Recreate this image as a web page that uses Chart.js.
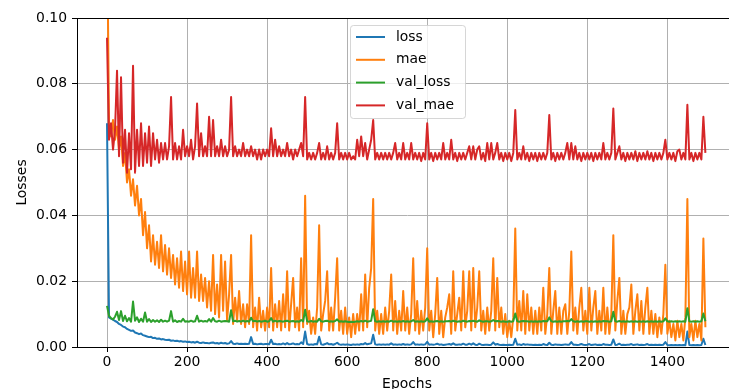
<!DOCTYPE html>
<html>
<head>
<meta charset="utf-8">
<script src="https://cdn.jsdelivr.net/npm/chart.js@4"></script>
<style>
html,body{margin:0;padding:0;overflow:hidden;background:#fff;width:729px;height:389px;}
#wrap{position:absolute;left:0;top:0;width:745px;height:400px;}
</style>
</head>
<body>
<div id="wrap"><canvas id="c" width="745" height="400"></canvas></div>
<script>
// Sampled epochs (every 5th epoch)
const epochs = Array.from({length: 300}, (_, i) => i * 5);
const xTicks = [0, 200, 400, 600, 800, 1000, 1200, 1400];
const yTicks = [0.00, 0.02, 0.04, 0.06, 0.08, 0.10];
const seriesNames = ['loss', 'mae', 'val_loss', 'val_mae'];

const loss = [
 0.068,0.0090,0.0086,0.0083,0.0079,0.0076,0.0070,0.0067,0.0062,0.0060,
 0.0055,0.0052,0.0049,0.0050,0.0044,0.0042,0.0039,0.0041,0.0036,0.0034,
 0.0032,0.0030,0.0031,0.0027,0.0028,0.0025,0.0026,0.0023,0.0024,0.0022,
 0.0021,0.0022,0.0019,0.0020,0.0018,0.0019,0.0017,0.0018,0.0016,0.0017,
 0.0015,0.0016,0.0014,0.0015,0.0013,0.0016,0.0013,0.0012,0.0014,0.0012,
 0.0012,0.0011,0.0013,0.0014,0.0011,0.0012,0.0010,0.0013,0.0011,0.0012,
 0.0010,0.0011,0.0018,0.0010,0.0009,0.0011,0.0009,0.0010,0.0009,0.0010,
 0.0009,0.0010,0.0030,0.0009,0.0010,0.0008,0.0009,0.0010,0.0008,0.0009,
 0.0009,0.0008,0.0022,0.0009,0.0010,0.0008,0.0009,0.0008,0.0011,0.0008,
 0.0012,0.0008,0.0009,0.0011,0.0008,0.0009,0.0008,0.0014,0.0009,0.0047,
 0.0009,0.0007,0.0008,0.0007,0.0009,0.0008,0.0031,0.0008,0.0007,0.0009,
 0.0012,0.0008,0.0009,0.0007,0.0009,0.0013,0.0008,0.0007,0.0008,0.0007,
 0.0008,0.0007,0.0006,0.0008,0.0007,0.0008,0.0007,0.0009,0.0008,0.0012,
 0.0008,0.0010,0.0011,0.0037,0.0008,0.0007,0.0008,0.0007,0.0008,0.0007,
 0.0008,0.0007,0.0011,0.0007,0.0008,0.0007,0.0008,0.0007,0.0009,0.0007,
 0.0008,0.0007,0.0008,0.0015,0.0007,0.0008,0.0007,0.0008,0.0007,0.0008,
 0.0016,0.0007,0.0008,0.0007,0.0008,0.0010,0.0007,0.0008,0.0006,0.0007,
 0.0008,0.0009,0.0007,0.0011,0.0007,0.0007,0.0008,0.0007,0.0010,0.0007,
 0.0007,0.0010,0.0007,0.0011,0.0007,0.0006,0.0010,0.0007,0.0006,0.0007,
 0.0007,0.0006,0.0007,0.0014,0.0007,0.0009,0.0007,0.0006,0.0007,0.0006,
 0.0006,0.0007,0.0006,0.0007,0.0025,0.0007,0.0008,0.0006,0.0009,0.0007,
 0.0008,0.0007,0.0007,0.0006,0.0007,0.0006,0.0007,0.0006,0.0009,0.0007,
 0.0006,0.0013,0.0007,0.0006,0.0008,0.0007,0.0007,0.0006,0.0007,0.0008,
 0.0007,0.0007,0.0015,0.0007,0.0007,0.0006,0.0007,0.0009,0.0007,0.0006,
 0.0007,0.0009,0.0006,0.0007,0.0008,0.0006,0.0007,0.0006,0.0009,0.0007,
 0.0007,0.0006,0.0007,0.0023,0.0006,0.0007,0.0010,0.0006,0.0007,0.0006,
 0.0007,0.0007,0.0009,0.0006,0.0007,0.0008,0.0006,0.0007,0.0006,0.0007,
 0.0009,0.0006,0.0007,0.0006,0.0007,0.0006,0.0007,0.0006,0.0007,0.0015,
 0.0006,0.0005,0.0006,0.0005,0.0006,0.0005,0.0006,0.0005,0.0006,0.0005,
 0.0047,0.0006,0.0005,0.0006,0.0005,0.0006,0.0005,0.0006,0.0025,0.0006
];

const mae = [
 0.130,0.068,0.064,0.069,0.063,0.067,0.060,0.064,0.055,0.059,
 0.050,0.054,0.046,0.051,0.043,0.049,0.040,0.045,0.034,0.041,
 0.030,0.037,0.026,0.034,0.025,0.032,0.024,0.034,0.023,0.031,
 0.022,0.030,0.021,0.028,0.019,0.027,0.018,0.029,0.017,0.026,
 0.016,0.029,0.015,0.024,0.015,0.029,0.014,0.022,0.014,0.021,
 0.012,0.020,0.011,0.028,0.010,0.019,0.009,0.028,0.011,0.026,
 0.008,0.016,0.028,0.007,0.015,0.008,0.017,0.007,0.013,0.006,
 0.013,0.007,0.034,0.006,0.012,0.005,0.015,0.006,0.011,0.005,
 0.012,0.006,0.024,0.005,0.013,0.006,0.014,0.005,0.016,0.006,
 0.023,0.005,0.013,0.021,0.006,0.012,0.005,0.027,0.006,0.046,
 0.007,0.011,0.004,0.009,0.004,0.012,0.037,0.005,0.010,0.014,
 0.023,0.005,0.012,0.005,0.015,0.027,0.005,0.011,0.004,0.012,
 0.004,0.009,0.003,0.010,0.004,0.010,0.005,0.016,0.005,0.022,
 0.006,0.018,0.024,0.045,0.005,0.011,0.004,0.010,0.004,0.012,
 0.005,0.011,0.022,0.005,0.014,0.004,0.011,0.005,0.017,0.005,
 0.012,0.004,0.010,0.027,0.005,0.014,0.004,0.011,0.005,0.012,
 0.030,0.005,0.011,0.003,0.010,0.021,0.004,0.011,0.003,0.009,
 0.012,0.016,0.004,0.023,0.005,0.010,0.015,0.005,0.023,0.006,
 0.011,0.023,0.005,0.024,0.006,0.012,0.023,0.005,0.011,0.004,
 0.012,0.005,0.011,0.027,0.005,0.021,0.006,0.012,0.004,0.010,
 0.003,0.008,0.003,0.009,0.036,0.005,0.014,0.005,0.017,0.004,
 0.016,0.005,0.012,0.004,0.011,0.004,0.012,0.005,0.018,0.004,
 0.010,0.024,0.004,0.011,0.017,0.004,0.012,0.004,0.011,0.013,
 0.004,0.011,0.029,0.005,0.012,0.004,0.012,0.018,0.005,0.011,
 0.004,0.018,0.005,0.012,0.017,0.004,0.011,0.005,0.018,0.004,
 0.012,0.004,0.010,0.034,0.005,0.014,0.021,0.004,0.011,0.004,
 0.010,0.012,0.019,0.004,0.011,0.016,0.005,0.014,0.004,0.012,
 0.018,0.004,0.011,0.004,0.010,0.003,0.009,0.004,0.010,0.025,
 0.004,0.008,0.003,0.007,0.002,0.008,0.003,0.007,0.002,0.009,
 0.045,0.003,0.007,0.002,0.008,0.003,0.007,0.002,0.033,0.006
];

const valLoss = [
 0.0125,0.0095,0.0088,0.0084,0.0092,0.0107,0.0082,0.0109,0.0079,0.0095,
 0.0078,0.0088,0.0077,0.0138,0.0080,0.0090,0.0076,0.0086,0.0077,0.0105,
 0.0077,0.0085,0.0076,0.0082,0.0077,0.0081,0.0076,0.0083,0.0077,0.0080,
 0.0077,0.0080,0.0109,0.0077,0.0081,0.0076,0.0079,0.0077,0.0086,0.0077,
 0.0078,0.0077,0.0080,0.0077,0.0078,0.0095,0.0077,0.0080,0.0077,0.0079,
 0.0077,0.0085,0.0077,0.0088,0.0078,0.0077,0.0080,0.0077,0.0078,0.0079,
 0.0078,0.0077,0.0112,0.0078,0.0080,0.0077,0.0079,0.0077,0.0080,0.0077,
 0.0079,0.0077,0.0089,0.0078,0.0080,0.0077,0.0079,0.0077,0.0078,0.0080,
 0.0077,0.0078,0.0088,0.0077,0.0080,0.0077,0.0079,0.0078,0.0077,0.0079,
 0.0080,0.0077,0.0078,0.0079,0.0077,0.0078,0.0077,0.0082,0.0078,0.0113,
 0.0078,0.0077,0.0079,0.0077,0.0078,0.0077,0.0086,0.0078,0.0077,0.0079,
 0.0080,0.0077,0.0078,0.0077,0.0079,0.0084,0.0077,0.0078,0.0077,0.0078,
 0.0077,0.0076,0.0077,0.0076,0.0077,0.0078,0.0077,0.0079,0.0077,0.0080,
 0.0077,0.0078,0.0080,0.0115,0.0078,0.0077,0.0078,0.0077,0.0078,0.0077,
 0.0078,0.0077,0.0080,0.0077,0.0078,0.0077,0.0078,0.0077,0.0079,0.0077,
 0.0078,0.0077,0.0078,0.0082,0.0077,0.0078,0.0077,0.0078,0.0077,0.0078,
 0.0087,0.0077,0.0078,0.0077,0.0078,0.0079,0.0077,0.0078,0.0077,0.0078,
 0.0078,0.0079,0.0077,0.0080,0.0078,0.0077,0.0078,0.0077,0.0080,0.0078,
 0.0077,0.0079,0.0078,0.0080,0.0078,0.0077,0.0081,0.0078,0.0077,0.0078,
 0.0078,0.0077,0.0078,0.0082,0.0078,0.0079,0.0078,0.0077,0.0078,0.0077,
 0.0077,0.0078,0.0077,0.0078,0.0102,0.0078,0.0077,0.0078,0.0079,0.0078,
 0.0078,0.0077,0.0078,0.0077,0.0078,0.0077,0.0078,0.0077,0.0079,0.0078,
 0.0078,0.0090,0.0078,0.0077,0.0078,0.0077,0.0078,0.0077,0.0078,0.0078,
 0.0079,0.0078,0.0085,0.0078,0.0077,0.0078,0.0077,0.0078,0.0077,0.0078,
 0.0078,0.0077,0.0078,0.0077,0.0078,0.0077,0.0078,0.0077,0.0079,0.0078,
 0.0078,0.0077,0.0078,0.0107,0.0078,0.0077,0.0079,0.0077,0.0078,0.0077,
 0.0078,0.0077,0.0078,0.0077,0.0078,0.0077,0.0078,0.0077,0.0078,0.0077,
 0.0078,0.0077,0.0078,0.0077,0.0078,0.0077,0.0078,0.0077,0.0078,0.0087,
 0.0078,0.0077,0.0078,0.0077,0.0078,0.0077,0.0078,0.0077,0.0078,0.0077,
 0.0118,0.0078,0.0077,0.0078,0.0077,0.0078,0.0077,0.0078,0.0102,0.0078
];

const valMae = [
 0.094,0.063,0.068,0.060,0.066,0.084,0.058,0.082,0.056,0.066,
 0.053,0.065,0.054,0.0855,0.053,0.066,0.055,0.068,0.055,0.065,
 0.056,0.067,0.055,0.065,0.057,0.063,0.056,0.062,0.057,0.062,
 0.057,0.061,0.076,0.057,0.062,0.057,0.061,0.057,0.066,0.058,
 0.061,0.058,0.063,0.057,0.061,0.074,0.058,0.065,0.058,0.061,
 0.058,0.070,0.058,0.069,0.058,0.061,0.058,0.063,0.058,0.061,
 0.058,0.060,0.076,0.058,0.061,0.058,0.060,0.058,0.062,0.058,
 0.060,0.058,0.061,0.058,0.060,0.057,0.060,0.057,0.060,0.058,
 0.060,0.058,0.0665,0.058,0.063,0.058,0.061,0.058,0.060,0.058,
 0.062,0.058,0.060,0.057,0.060,0.058,0.060,0.062,0.058,0.076,
 0.057,0.059,0.057,0.059,0.057,0.059,0.062,0.057,0.059,0.057,
 0.061,0.057,0.059,0.057,0.059,0.068,0.057,0.059,0.057,0.059,
 0.057,0.059,0.057,0.058,0.057,0.063,0.058,0.064,0.058,0.062,
 0.057,0.060,0.063,0.069,0.057,0.059,0.057,0.059,0.057,0.059,
 0.057,0.059,0.057,0.059,0.062,0.057,0.059,0.057,0.062,0.057,
 0.059,0.057,0.062,0.057,0.059,0.057,0.059,0.0565,0.059,0.057,
 0.068,0.057,0.059,0.0565,0.059,0.057,0.059,0.057,0.062,0.057,
 0.059,0.057,0.063,0.057,0.059,0.0565,0.059,0.057,0.059,0.057,
 0.059,0.061,0.057,0.061,0.057,0.060,0.061,0.057,0.059,0.0565,
 0.062,0.057,0.062,0.057,0.059,0.062,0.057,0.059,0.0565,0.059,
 0.057,0.059,0.0565,0.059,0.072,0.057,0.059,0.057,0.061,0.057,
 0.059,0.0565,0.059,0.057,0.059,0.0565,0.059,0.057,0.059,0.057,
 0.059,0.0705,0.057,0.059,0.0565,0.059,0.057,0.059,0.057,0.059,
 0.062,0.057,0.062,0.057,0.061,0.057,0.059,0.0565,0.059,0.057,
 0.059,0.057,0.059,0.0565,0.059,0.057,0.059,0.057,0.062,0.057,
 0.059,0.057,0.059,0.0725,0.057,0.059,0.061,0.057,0.059,0.0565,
 0.059,0.057,0.059,0.057,0.0595,0.0565,0.059,0.057,0.059,0.057,
 0.0595,0.057,0.059,0.0565,0.059,0.057,0.059,0.057,0.059,0.063,
 0.057,0.059,0.057,0.059,0.0565,0.0595,0.060,0.057,0.059,0.057,
 0.0736,0.057,0.059,0.0565,0.059,0.057,0.059,0.057,0.070,0.059
];

const colors = ['#1f77b4', '#ff7f0e', '#2ca02c', '#d62728'];
const seriesValues = [loss, mae, valLoss, valMae];
const drawOrder = [4, 3, 2, 1];
const FONT = {family: "'DejaVu Sans', sans-serif", size: 13.9};

const datasets = seriesNames.map((name, k) => ({
  label: name,
  data: epochs.map((e, i) => ({x: e, y: seriesValues[k][i]})),
  borderColor: colors[k],
  backgroundColor: colors[k],
  borderWidth: 2,
  pointRadius: 0,
  tension: 0,
  fill: false,
  clip: 0,
  borderJoinStyle: 'round',
  order: drawOrder[k]
}));

const mplLegend = {
  id: 'mplLegend',
  afterDatasetsDraw(chart) {
    const ctx = chart.ctx;
    const bx = 350.5, by = 25.5, bw = 115, bh = 93, r = 3;
    ctx.save();
    ctx.beginPath();
    ctx.moveTo(bx + r, by);
    ctx.lineTo(bx + bw - r, by);
    ctx.arcTo(bx + bw, by, bx + bw, by + r, r);
    ctx.lineTo(bx + bw, by + bh - r);
    ctx.arcTo(bx + bw, by + bh, bx + bw - r, by + bh, r);
    ctx.lineTo(bx + r, by + bh);
    ctx.arcTo(bx, by + bh, bx, by + bh - r, r);
    ctx.lineTo(bx, by + r);
    ctx.arcTo(bx, by, bx + r, by, r);
    ctx.closePath();
    ctx.fillStyle = 'rgba(255,255,255,0.8)';
    ctx.fill();
    ctx.strokeStyle = 'rgba(204,204,204,0.8)';
    ctx.lineWidth = 1;
    ctx.stroke();
    const rowY = [37, 59.8, 82.6, 105.4];
    ctx.font = FONT.size + "px 'DejaVu Sans'";
    ctx.textBaseline = 'middle';
    ctx.textAlign = 'left';
    chart.data.datasets.forEach((ds, i) => {
      ctx.strokeStyle = ds.borderColor;
      ctx.lineWidth = 2;
      ctx.beginPath();
      ctx.moveTo(356, rowY[i]);
      ctx.lineTo(385, rowY[i]);
      ctx.stroke();
      ctx.fillStyle = '#000';
      ctx.fillText(ds.label, 396, rowY[i]);
    });
    ctx.restore();
  },
  afterDraw(chart) {
    const {ctx, chartArea} = chart;
    ctx.save();
    ctx.strokeStyle = '#000';
    ctx.lineWidth = 1;
    ctx.beginPath();
    ctx.moveTo(chartArea.left, Math.round(chartArea.top) + 0.5);
    ctx.lineTo(chartArea.right, Math.round(chartArea.top) + 0.5);
    ctx.stroke();
    ctx.restore();
  }
};

new Chart(document.getElementById('c'), {
  type: 'line',
  data: {datasets},
  plugins: [mplLegend],
  options: {
    responsive: false,
    animation: false,
    devicePixelRatio: 1,
    layout: {padding: {top: 18, right: 8, left: 0, bottom: 0}},
    plugins: {legend: {display: false}, tooltip: {enabled: false}},
    events: [],
    scales: {
      x: {
        type: 'linear',
        min: -75,
        max: 1574,
        afterBuildTicks: s => { s.ticks = xTicks.map(v => ({value: v})); },
        afterFit: s => { s.height = 53; },
        ticks: {color: '#000', font: FONT, padding: 2, maxRotation: 0, autoSkip: false,
                callback: v => String(v)},
        grid: {color: '#b0b0b0', lineWidth: 1, tickColor: '#000', tickLength: 5, tickWidth: 1},
        border: {color: '#000', width: 1},
        title: {display: true, text: 'Epochs', color: '#000', font: FONT, padding: {top: 0, bottom: 7.7}}
      },
      y: {
        type: 'linear',
        min: 0,
        max: 0.1,
        afterBuildTicks: s => { s.ticks = yTicks.map(v => ({value: v})); },
        afterFit: s => { s.width = 77; },
        ticks: {color: '#000', font: FONT, padding: 5, autoSkip: false,
                callback: v => Number(v).toFixed(2)},
        grid: {color: '#b0b0b0', lineWidth: 1, tickColor: '#000', tickLength: 5, tickWidth: 1},
        border: {color: '#000', width: 1},
        title: {display: true, text: 'Losses', color: '#000', font: FONT, padding: {top: 13.7, bottom: 0}}
      }
    }
  }
});
</script>
</body>
</html>
